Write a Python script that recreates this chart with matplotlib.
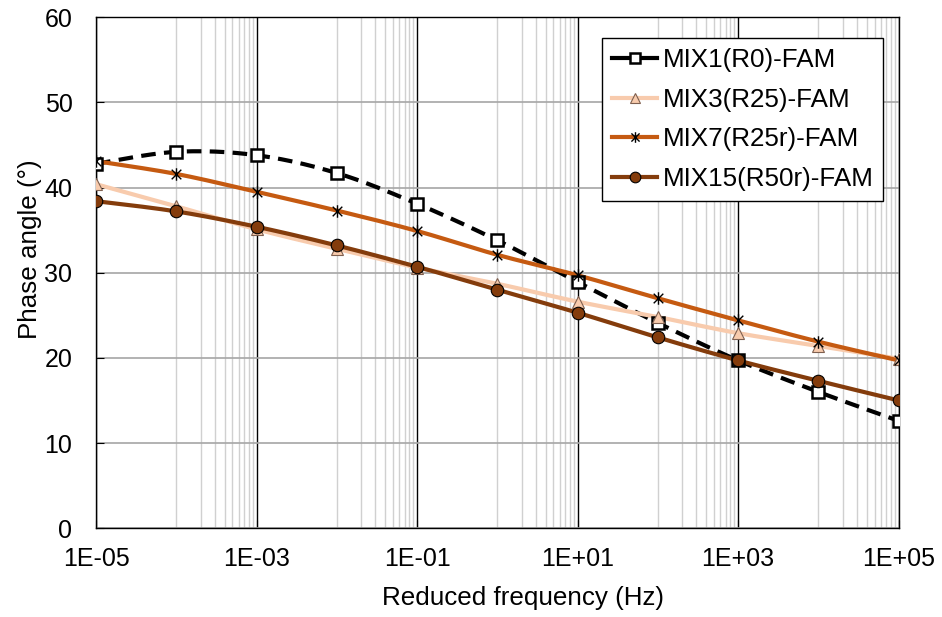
import numpy as np
import matplotlib.pyplot as plt
from matplotlib.path import Path
from matplotlib.ticker import FixedLocator, FuncFormatter, NullFormatter

plt.rcParams["font.family"] = ["Liberation Sans", "DejaVu Sans"]

# reduced frequency (Hz), one point per decade
freq = [1e-5, 1e-4, 1e-3, 1e-2, 1e-1, 1e0, 1e1, 1e2, 1e3, 1e4, 1e5]

mix1 = [42.8, 44.2, 43.8, 41.7, 38.1, 33.8, 28.9, 24.1, 19.7, 16.0, 12.6]
mix3 = [40.4, 37.8, 35.1, 32.8, 30.6, 28.7, 26.6, 24.8, 22.9, 21.4, 19.9]
mix7 = [43.1, 41.6, 39.5, 37.3, 34.9, 32.1, 29.7, 27.0, 24.4, 21.9, 19.7]
mix15 = [38.4, 37.2, 35.4, 33.2, 30.7, 28.0, 25.3, 22.4, 19.7, 17.3, 15.0]

labels = ["MIX1(R0)-FAM", "MIX3(R25)-FAM", "MIX7(R25r)-FAM", "MIX15(R50r)-FAM"]


def smooth(x, y, n=30):
    # excel-like smoothed line: catmull-rom bezier in log-x space
    lx = np.log10(np.asarray(x, float))
    yy = np.asarray(y, float)
    P = np.column_stack([lx, yy])
    P = np.vstack([P[0], P, P[-1]])
    out = []
    t = np.linspace(0, 1, n)[:, None]
    for i in range(1, len(P) - 2):
        p0, p1, p2, p3 = P[i - 1], P[i], P[i + 1], P[i + 2]
        c1 = p1 + (p2 - p0) / 6
        c2 = p2 - (p3 - p1) / 6
        seg = ((1 - t) ** 3) * p1 + 3 * ((1 - t) ** 2) * t * c1 + 3 * (1 - t) * t ** 2 * c2 + t ** 3 * p2
        out.append(seg if i == 1 else seg[1:])
    out = np.vstack(out)
    return 10 ** out[:, 0], out[:, 1]


# asterisk marker (x with a vertical bar)
star = Path(
    [(-1, -1), (1, 1), (-1, 1), (1, -1), (0, -1.3), (0, 1.3)],
    [Path.MOVETO, Path.LINETO, Path.MOVETO, Path.LINETO, Path.MOVETO, Path.LINETO],
)

styles = [
    dict(color="black", ls=(0, (3.5, 2)), marker="s", mfc="white", mec="black", ms=8.5, mew=1.8),
    dict(color="#F8CBAD", ls="-", marker="^", mfc="#F8CBAD", mec="#7f6050", ms=9, mew=0.8),
    dict(color="#C55A11", ls="-", marker=star, mfc="none", mec="black", ms=9, mew=1.0),
    dict(color="#843C0C", ls="-", marker="o", mfc="#843C0C", mec="black", ms=9, mew=0.8),
]

fig = plt.figure(figsize=(9.42, 6.17), dpi=100)
ax = fig.add_axes([0.102, 0.144, 0.852, 0.828])

for ys, lab, st in zip([mix1, mix3, mix7, mix15], labels, styles):
    sx, sy = smooth(freq, ys)
    ax.plot(sx, sy, color=st["color"], ls=st["ls"], lw=3, zorder=3)
    ax.plot(freq, ys, ls="none", marker=st["marker"], mfc=st["mfc"], mec=st["mec"],
            ms=st["ms"], mew=st["mew"], zorder=4)
    # legend proxy
    ax.plot([], [], color=st["color"], ls="-", lw=3, marker=st["marker"], mfc=st["mfc"],
            mec=st["mec"], ms=st["ms"] * 0.85, mew=st["mew"], label=lab)

ax.set_xscale("log")
ax.set_xlim(1e-5, 1e5)
ax.set_ylim(0, 60)
ax.set_yticks(range(0, 61, 10))

majors = [10.0 ** e for e in range(-5, 6, 2)]
minors = [10.0 ** e * m for e in range(-4, 5, 2) for m in range(1, 10)]
ax.xaxis.set_major_locator(FixedLocator(majors))
ax.xaxis.set_minor_locator(FixedLocator(minors))
ax.xaxis.set_minor_formatter(NullFormatter())
ax.xaxis.set_major_formatter(FuncFormatter(lambda v, p: "1E%+03d" % int(round(np.log10(v)))))

ax.grid(True, which="major", axis="x", color="black", lw=1.0, zorder=1)
ax.grid(True, which="minor", axis="x", color="#d0d0d0", lw=1.0, zorder=0)
ax.grid(True, which="major", axis="y", color="#a6a6a6", lw=1.2, zorder=1)
ax.set_axisbelow(True)

for s in ax.spines.values():
    s.set_color("black")
    s.set_linewidth(1.0)

ax.tick_params(axis="both", which="major", labelsize=18, direction="in", length=6, color="black")
ax.tick_params(axis="x", which="major", pad=13.5)
ax.tick_params(axis="x", which="minor", length=0)
ax.tick_params(axis="y", pad=17)

ax.set_xlabel("Reduced frequency (Hz)", fontsize=18.7)
ax.xaxis.set_label_coords(0.532, -0.114)
ax.set_ylabel("Phase angle (°)", fontsize=18.7)
ax.yaxis.set_label_coords(-0.068, 0.547)

leg = ax.legend(loc="upper right", bbox_to_anchor=(0.981, 0.959), borderaxespad=0,
                fontsize=18.7, frameon=True, fancybox=False, edgecolor="black", framealpha=1,
                handlelength=1.75, handletextpad=0.2, borderpad=0.38, labelspacing=0.6)
leg.get_frame().set_linewidth(1.0)
leg.set_zorder(10)

fig.savefig("out.png", dpi=100)
